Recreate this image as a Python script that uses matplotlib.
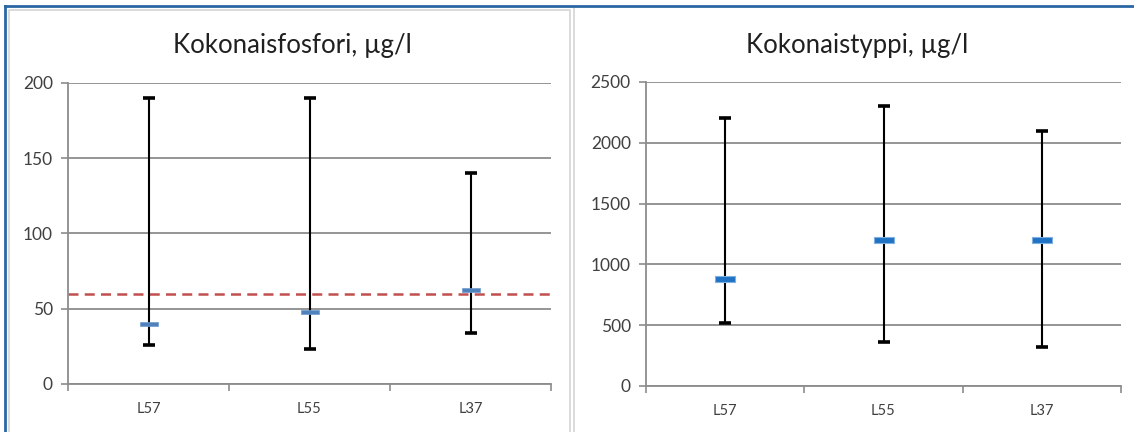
import matplotlib.pyplot as plt
from matplotlib.lines import Line2D
import numpy as np

plt.rcParams['font.family'] = ['Lato', 'DejaVu Sans']

sites = ['L57', 'L55', 'L37']

# Kokonaisfosfori
p_max = [190, 190, 140]
p_min = [26, 23, 34]
p_mean = [40, 48, 62.5]
p_limit = 60

# Kokonaistyppi
n_max = [2200, 2300, 2100]
n_min = [520, 360, 320]
n_mean = [880, 1200, 1200]

W, H = 1134, 432
fig = plt.figure(figsize=(W / 100, H / 100), dpi=100)

GRID = '#8c8c8c'
TXT = '#404040'


def px(x0, x1, y0, y1):
    # pixel box -> figure fraction rect
    return [x0 / W, 1 - y1 / H, (x1 - x0) / W, (y1 - y0) / H]


def rect_marker(aspect):
    return [(-1, -aspect), (1, -aspect), (1, aspect), (-1, aspect), (-1, -aspect)]


def setup(ax, ymax, ystep):
    ax.set_xlim(-0.5, 2.5)
    ax.set_ylim(0, ymax)
    ax.set_yticks(np.arange(0, ymax + 1, ystep))
    ax.set_xticks(range(len(sites)))
    ax.set_xticklabels(sites, fontsize=10.5, color=TXT)
    ax.set_xticks([-0.5, 0.5, 1.5, 2.5], minor=True)
    ax.tick_params(axis='x', which='major', length=0, pad=13)
    ax.tick_params(axis='x', which='minor', length=5, width=1.2, color=GRID)
    ax.tick_params(axis='y', length=5, width=1.2, color=GRID, labelsize=12.5,
                   labelcolor=TXT, pad=6)
    ax.grid(axis='y', color=GRID, lw=1.3)
    ax.set_axisbelow(True)
    for s in ['top', 'right']:
        ax.spines[s].set_visible(False)
    for s in ['left', 'bottom']:
        ax.spines[s].set_color(GRID)
        ax.spines[s].set_linewidth(1.3)


def whiskers(ax, mean, lo, hi):
    x = np.arange(len(mean))
    mean = np.array(mean)
    err = [mean - np.array(lo), np.array(hi) - mean]
    ax.errorbar(x, mean, yerr=err, fmt='none', ecolor='black',
                elinewidth=1.5, capsize=4.2, capthick=2.6, zorder=3)


ax1 = fig.add_axes(px(68, 551, 83, 384))
setup(ax1, 200, 50)
whiskers(ax1, p_mean, p_min, p_max)
ax1.axhline(p_limit, color='#c0504d', lw=1.8, ls=(0, (4, 2.5)), zorder=2,
            xmin=0, xmax=1.005, clip_on=False)
ax1.plot(range(3), p_mean, ls='none', marker=rect_marker(0.22), ms=12.5,
         mfc='#4f81bd', mec='#6f9bd0', mew=0.5, zorder=4)

ax2 = fig.add_axes(px(646, 1121, 82, 386))
setup(ax2, 2500, 500)
whiskers(ax2, n_mean, n_min, n_max)
ax2.plot(range(3), n_mean, ls='none', marker=rect_marker(0.28), ms=14.5,
         mfc='#1f72c4', mec='#7fb0e0', mew=0.8, zorder=4)

fig.text(292 / W, 1 - 45 / H, 'Kokonaisfosfori, µg/l', ha='center',
         va='center', fontsize=18.5, color='#202020')
fig.text(857 / W, 1 - 45 / H, 'Kokonaistyppi, µg/l', ha='center',
         va='center', fontsize=18.5, color='#202020')


def fline(xs, ys, color, lw):
    fig.add_artist(Line2D([x / W for x in xs], [1 - y / H for y in ys],
                          color=color, lw=lw, transform=fig.transFigure))


# panel frames
fline([9, 9, 570, 570], [432, 10, 10, 432], '#d4d4d4', 1.2)
fline([574, 574], [8, 432], '#d4d4d4', 1.2)
fline([5, 1134], [6, 6], '#2b67a5', 2)
fline([5, 5], [6, 432], '#2b67a5', 2)

fig.savefig('out.png', dpi=100)
